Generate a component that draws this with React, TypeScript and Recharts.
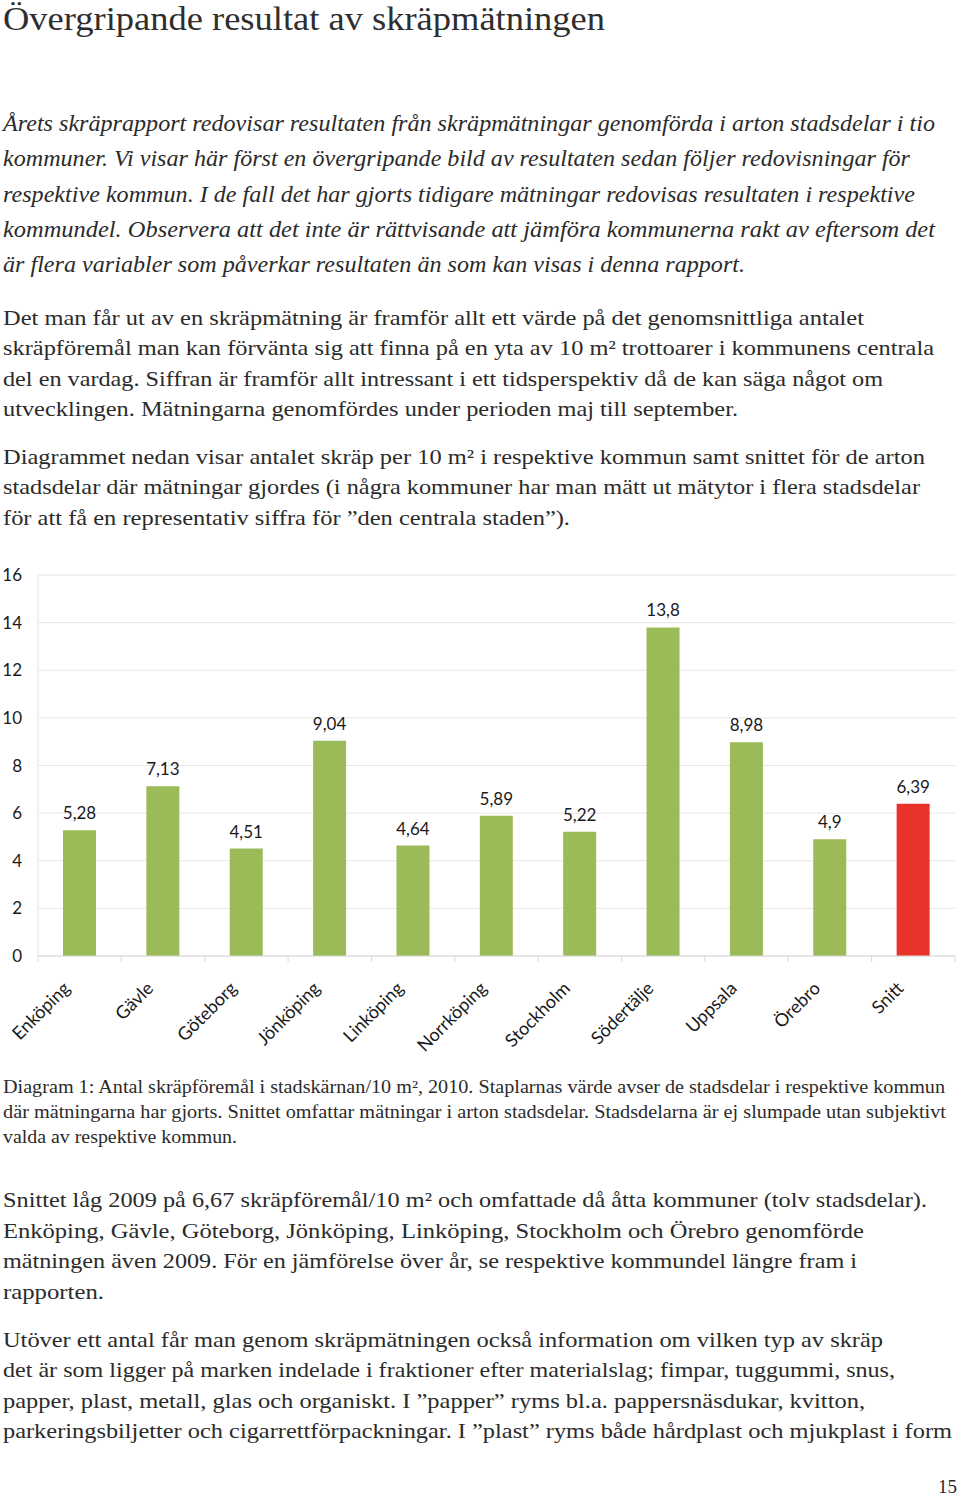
import { BarChart, Bar, XAxis, YAxis, CartesianGrid, Cell, LabelList } from "recharts";

const categories = [
  "Enköping",
  "Gävle",
  "Göteborg",
  "Jönköping",
  "Linköping",
  "Norrköping",
  "Stockholm",
  "Södertälje",
  "Uppsala",
  "Örebro",
  "Snitt",
];
const values = [5.28, 7.13, 4.51, 9.04, 4.64, 5.89, 5.22, 13.8, 8.98, 4.9, 6.39];
const yTicks = [0, 2, 4, 6, 8, 10, 12, 14, 16];

const title = "Övergripande resultat av skräpmätningen";
const introLines = [
  "Årets skräprapport redovisar resultaten från skräpmätningar genomförda i arton stadsdelar i tio",
  "kommuner. Vi visar här först en övergripande bild av resultaten sedan följer redovisningar för",
  "respektive kommun. I de fall det har gjorts tidigare mätningar redovisas resultaten i respektive",
  "kommundel. Observera att det inte är rättvisande att jämföra kommunerna rakt av eftersom det",
  "är flera variabler som påverkar resultaten än som kan visas i denna rapport.",
];
const para1Lines = [
  "Det man får ut av en skräpmätning är framför allt ett värde på det genomsnittliga antalet",
  "skräpföremål man kan förvänta sig att finna på en yta av 10 m² trottoarer i kommunens centrala",
  "del en vardag. Siffran är framför allt intressant i ett tidsperspektiv då de kan säga något om",
  "utvecklingen. Mätningarna genomfördes under perioden maj till september.",
];
const para2Lines = [
  "Diagrammet nedan visar antalet skräp per 10 m² i respektive kommun samt snittet för de arton",
  "stadsdelar där mätningar gjordes (i några kommuner har man mätt ut mätytor i flera stadsdelar",
  "för att få en representativ siffra för ”den centrala staden”).",
];
const captionLines = [
  "Diagram 1: Antal skräpföremål i stadskärnan/10 m², 2010. Staplarnas värde avser de stadsdelar i respektive kommun",
  "där mätningarna har gjorts. Snittet omfattar mätningar i arton stadsdelar. Stadsdelarna är ej slumpade utan subjektivt",
  "valda av respektive kommun.",
];
const para3Lines = [
  "Snittet låg 2009 på 6,67 skräpföremål/10 m² och omfattade då åtta kommuner (tolv stadsdelar).",
  "Enköping, Gävle, Göteborg, Jönköping, Linköping, Stockholm och Örebro genomförde",
  "mätningen även 2009. För en jämförelse över år, se respektive kommundel längre fram i",
  "rapporten.",
];
const para4Lines = [
  "Utöver ett antal får man genom skräpmätningen också information om vilken typ av skräp",
  "det är som ligger på marken indelade i fraktioner efter materialslag; fimpar, tuggummi, snus,",
  "papper, plast, metall, glas och organiskt. I ”papper” ryms bl.a. pappersnäsdukar, kvitton,",
  "parkeringsbiljetter och cigarrettförpackningar. I ”plast” ryms både hårdplast och mjukplast i form",
];
const pageNumber = "15";

const data = categories.map((name, i) => ({ name, value: values[i] }));

// layout of the text blocks: first baseline, line step, font size, line widths
const blocks = [
  { lines: introLines, y: 131, step: 35.3, size: 24, italic: true, widths: [932, 907, 912, 932, 742] },
  { lines: para1Lines, y: 325, step: 30.3, size: 21, italic: false, widths: [861, 931, 880, 735] },
  { lines: para2Lines, y: 464, step: 30.3, size: 21, italic: false, widths: [922, 917, 567] },
  { lines: captionLines, y: 1093, step: 25, size: 18, italic: false, widths: [942, 943, 234] },
  { lines: para3Lines, y: 1207, step: 30.5, size: 21, italic: false, widths: [924, 861, 854, 101] },
  { lines: para4Lines, y: 1347, step: 30.3, size: 21, italic: false, widths: [880, 892, 862, 949] },
];

const SERIF = "'Liberation Serif', 'Times New Roman', serif";
const GREEN = "#9bbb59";
const RED = "#e8322a";
const BAND = (960 - 38 - 5) / categories.length;

function CategoryTick(props: any) {
  const { x, y, payload, index } = props;
  const left = x - BAND / 2;
  const ax = x - 13;
  const ay = y + 29;
  return (
    <g>
      <line x1={left} y1={y} x2={left} y2={y + 6} stroke="#d9d9d9" />
      {index === categories.length - 1 && (
        <line x1={x + BAND / 2} y1={y} x2={x + BAND / 2} y2={y + 6} stroke="#d9d9d9" />
      )}
      <text
        x={ax}
        y={ay}
        dy="0.35em"
        textAnchor="end"
        transform={`rotate(-45, ${ax}, ${ay})`}
        fontFamily="Lato"
        fontSize={18}
        fill="#1a1a1a"
      >
        {payload.value}
      </text>
    </g>
  );
}

export default function App() {
  const fmt = (v: any) => String(v).replace(".", ",");
  return (
    <div style={{ position: "absolute", left: 0, top: 0, width: 960, height: 1496, background: "#fff" }}>
      <svg width={960} height={1496} style={{ position: "absolute", left: 0, top: 0 }}>
        <text
          x={3}
          y={30}
          fontFamily={SERIF}
          fontSize={34}
          fill="#2e2e2e"
          textLength={602}
          lengthAdjust="spacingAndGlyphs"
        >
          {title}
        </text>
        {blocks.map((b, bi) =>
          b.lines.map((line, li) => (
            <text
              key={`${bi}-${li}`}
              x={3}
              y={b.y + li * b.step}
              fontFamily={SERIF}
              fontSize={b.size}
              fontStyle={b.italic ? "italic" : "normal"}
              fill="#2b2b2b"
              textLength={b.widths[li]}
              lengthAdjust="spacingAndGlyphs"
            >
              {line}
            </text>
          ))
        )}
        <text x={938} y={1493} fontFamily={SERIF} fontSize={19} fill="#2b2b2b">
          {pageNumber}
        </text>
      </svg>
      <div style={{ position: "absolute", left: 0, top: 560, width: 960, height: 500 }}>
        <BarChart width={960} height={500} data={data} margin={{ top: 15, right: 5, left: 0, bottom: 0 }}>
          <CartesianGrid vertical={false} stroke="#e6e6e6" />
          <XAxis
            dataKey="name"
            interval={0}
            height={104}
            tickLine={false}
            tickSize={0}
            tickMargin={0}
            axisLine={{ stroke: "#d9d9d9" }}
            tick={<CategoryTick />}
          />
          <YAxis
            type="number"
            domain={[0, 16]}
            ticks={yTicks}
            interval={0}
            width={38}
            tickLine={false}
            tickSize={6}
            tickMargin={10}
            axisLine={{ stroke: "#e3e3e3" }}
            tick={{ fontFamily: "Lato", fontSize: 17, fill: "#1a1a1a" }}
          />
          <Bar dataKey="value" barSize={33} fill={GREEN} isAnimationActive={false}>
            {data.map((d, i) => (
              <Cell key={d.name} fill={i === data.length - 1 ? RED : GREEN} />
            ))}
            <LabelList
              dataKey="value"
              position="top"
              offset={11}
              formatter={fmt}
              fontFamily="Lato"
              fontSize={17}
              fill="#1a1a1a"
            />
          </Bar>
        </BarChart>
      </div>
    </div>
  );
}
